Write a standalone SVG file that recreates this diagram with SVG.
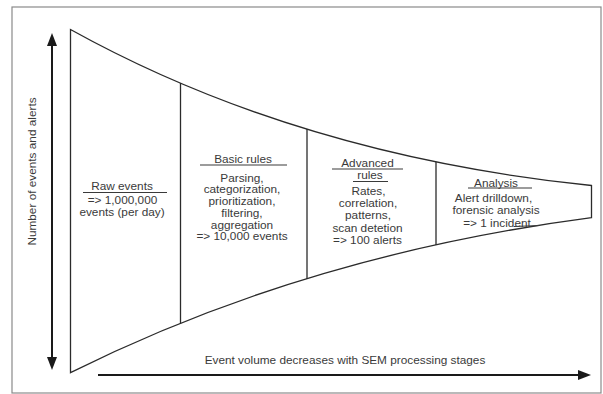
<svg xmlns="http://www.w3.org/2000/svg" width="603" height="394" viewBox="0 0 603 394">
  <style>
    .frame { fill: none; stroke: #8a8a8a; stroke-width: 1.2; }
    .edge { fill: none; stroke: #2b2b2b; stroke-width: 1.3; }
    .axis { fill: none; stroke: #1a1a1a; stroke-width: 2; }
    .rule { stroke: #3a3a3a; stroke-width: 1.1; }
    text { font-family: "Liberation Sans", Arial, Helvetica, sans-serif; font-size: 11.8px; fill: #3a3a3a; text-anchor: middle; }
  </style>
  <defs>
    <marker id="arrow" viewBox="0 0 13 10" markerWidth="13" markerHeight="10" refX="3" refY="5" markerUnits="userSpaceOnUse" orient="auto-start-reverse">
      <path d="M0,0 L13,5 L0,10 z" fill="#1a1a1a"/>
    </marker>
  </defs>

  <rect class="frame" x="12" y="7" width="589" height="386"/>

  <!-- funnel outline and stage dividers -->
  <g id="connectors">
    <path class="edge" d="M70.5,29.5 C240,123.5 421,168 591.5,185.5 L591.5,217.7 C421,240 240,288 70.5,372.7 Z"/>
    <line class="edge" x1="180.5" y1="83" x2="180.5" y2="323.6"/>
    <line class="edge" x1="307" y1="129" x2="307" y2="279"/>
    <line class="edge" x1="436" y1="162" x2="436" y2="245"/>
    <line class="axis" x1="52" y1="43" x2="52" y2="360" marker-start="url(#arrow)" marker-end="url(#arrow)"/>
    <line class="axis" x1="98" y1="375" x2="581" y2="375" marker-end="url(#arrow)"/>
  </g>

  <g id="axis-y-label">
    <text transform="translate(36,171.5) rotate(-90)">Number of events and alerts</text>
  </g>
  <g id="axis-x-label">
    <text x="345" y="364">Event volume decreases with SEM processing stages</text>
  </g>

  <g id="stage-raw">
    <text x="122" y="190">Raw events</text>
    <line class="rule" x1="83" y1="192.5" x2="167" y2="192.5"/>
    <text x="122.5" y="204">=&gt; 1,000,000</text>
    <text x="122" y="216">events (per day)</text>
  </g>

  <g id="stage-basic">
    <text x="243" y="163">Basic rules</text>
    <line class="rule" x1="200" y1="165" x2="287" y2="165"/>
    <text x="242" y="181.5">Parsing,</text>
    <text x="242" y="193.3">categorization,</text>
    <text x="242" y="205">prioritization,</text>
    <text x="242" y="216.8">filtering,</text>
    <text x="242" y="228.6">aggregation</text>
    <text x="242" y="240.4">=&gt; 10,000 events</text>
  </g>

  <g id="stage-advanced">
    <text x="367.5" y="166.7">Advanced</text>
    <line class="rule" x1="332" y1="169" x2="403" y2="169"/>
    <text x="370" y="179.3">rules</text>
    <line class="rule" x1="353" y1="181.5" x2="388" y2="181.5"/>
    <text x="368.5" y="195">Rates,</text>
    <text x="368" y="207">correlation,</text>
    <text x="368" y="219.3">patterns,</text>
    <text x="367.5" y="231.5">scan detetion</text>
    <text x="367.5" y="243.7">=&gt; 100 alerts</text>
  </g>

  <g id="stage-analysis">
    <text x="496" y="186.5">Analysis</text>
    <line class="rule" x1="468" y1="188" x2="532" y2="188"/>
    <text x="493.5" y="201.7">Alert drilldown,</text>
    <text x="496" y="214.3">forensic analysis</text>
    <text x="497" y="226.7">=&gt; 1 incident</text>
    <line class="rule" x1="514" y1="226.5" x2="540" y2="225.5"/>
  </g>
</svg>
